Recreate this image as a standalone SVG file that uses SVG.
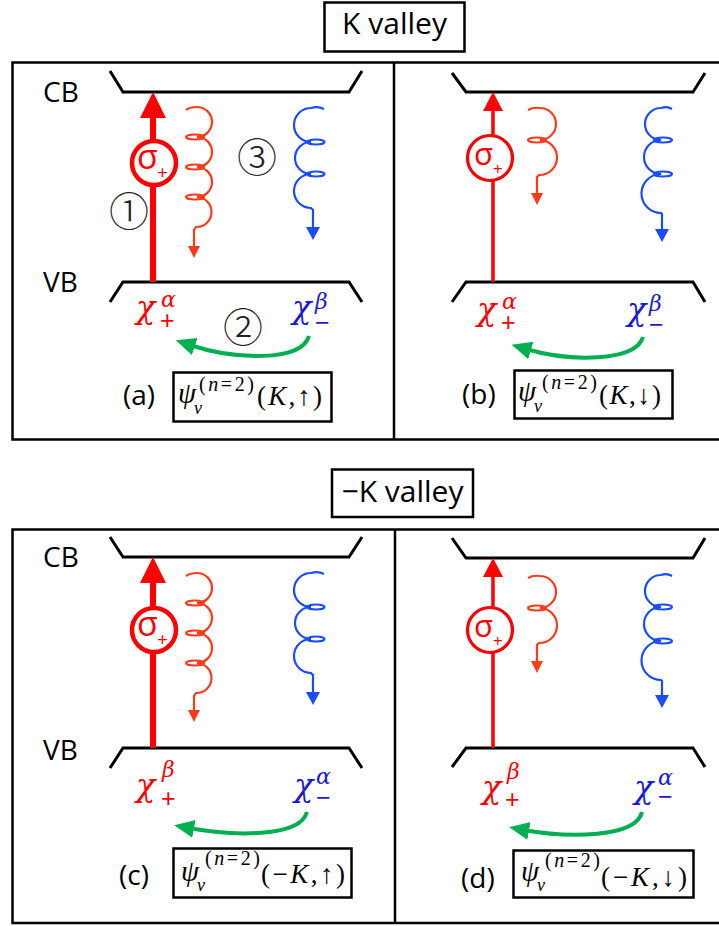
<svg xmlns="http://www.w3.org/2000/svg" width="719" height="926" viewBox="0 0 719 926">
<defs>
<style>
.frame{fill:none;stroke:#000;stroke-width:2.5}
.band{fill:none;stroke:#000;stroke-width:3}
.box{fill:#fff;stroke:#000;stroke-width:2.5}
.lbl{font-family:"Open Sans","Liberation Sans",sans-serif;fill:#000}
.m{font-family:"Liberation Serif",serif;fill:#000}
.g{font-family:"DejaVu Serif","Liberation Serif",serif;font-style:italic}
.it{font-style:italic}
.pm{font-family:"Liberation Sans",sans-serif;font-size:25px}
.num{font-family:"Noto Sans CJK JP","DejaVu Sans",sans-serif;font-size:40px;font-weight:200;fill:#222;text-anchor:middle}
.red{fill:#ff0000}
.blu{fill:#1a1ad6}
.sr{fill:none;stroke:#ff3a1a;stroke-width:2.2}
.sb{fill:none;stroke:#1a4cff;stroke-width:2.2}
.hr{fill:#ff3a1a}
.hb{fill:#1a4cff}
.grn{fill:none;stroke:#00b050;stroke-width:4;marker-end:url(#gh)}
.sig{fill:#fff;stroke:#ff0000}
</style>
<marker id="gh" markerUnits="userSpaceOnUse" markerWidth="22" markerHeight="20" viewBox="0 0 22 20" refX="5" refY="9" orient="auto">
<path d="M0,0 L20,9 L0,18 z" fill="#00b050"/>
</marker>
</defs>
<rect width="719" height="926" fill="#fff"/>

<g id="title-k">
<rect class="box" x="324.5" y="2.5" width="140" height="49"/>
<text class="lbl" x="394.5" y="34" font-size="30" text-anchor="middle">K valley</text>
</g>
<g id="title-mk">
<rect class="box" x="332" y="469.5" width="141" height="47.5"/>
<text class="lbl" x="402.5" y="502" font-size="30" text-anchor="middle">−K valley</text>
</g>

<g id="frames">
<rect class="frame" x="12.5" y="62.5" width="712" height="377"/>
<line class="frame" x1="394" y1="62.5" x2="394" y2="439.5"/>
<rect class="frame" x="12.5" y="529.5" width="712" height="393.5"/>
<line class="frame" x1="395" y1="529.5" x2="395" y2="923"/>
</g>

<g id="panel-a">
<text class="lbl" x="43" y="102" font-size="28">CB</text>
<text class="lbl" x="43" y="292" font-size="28">VB</text>
<path class="band" d="M110,71 L123,92 L349,92 L362,71"/>
<path class="band" d="M110,302 L123,282 L349,282 L362,302"/>
<text class="g red" x="136" y="318" font-size="32">χ</text>
<text class="g red" x="161" y="307" font-size="22">α</text>
<text class="pm red" x="160" y="329">+</text>
<text class="g blu" x="292" y="318" font-size="32">χ</text>
<text class="g blu" x="315" y="309" font-size="22">β</text>
<text class="pm blu" x="315" y="331">−</text>
<text class="num" x="129" y="226">①</text>
<text class="num" x="257" y="172">③</text>
<text class="num" x="243" y="342">②</text>
<text class="lbl" x="123" y="405" font-size="28">(a)</text>
<rect class="box" x="173.5" y="372.5" width="158" height="49"/>
<text class="m it" x="178" y="403" font-size="29">ψ</text>
<text class="m it" x="194" y="414" font-size="18">v</text>
<text class="m" x="199" y="391" font-size="20" textLength="55" lengthAdjust="spacing">(<tspan class="it">n</tspan>=2)</text>
<text class="m" x="257" y="405" font-size="27" textLength="65" lengthAdjust="spacing">(<tspan class="it">K</tspan>,↑)</text>
</g>

<g id="panel-b">
<path class="band" d="M452,73 L466,92 L693,92 L705,73"/>
<path class="band" d="M452,302 L466,282 L693,282 L705,302"/>
<text class="g red" x="477" y="320" font-size="32">χ</text>
<text class="g red" x="502" y="309" font-size="22">α</text>
<text class="pm red" x="501" y="331">+</text>
<text class="g blu" x="627" y="320" font-size="32">χ</text>
<text class="g blu" x="649" y="311" font-size="22">β</text>
<text class="pm blu" x="649" y="333">−</text>
<text class="lbl" x="462" y="404" font-size="28">(b)</text>
<rect class="box" x="514.5" y="370.5" width="158" height="48"/>
<text class="m it" x="518" y="401" font-size="29">ψ</text>
<text class="m it" x="534" y="412" font-size="18">v</text>
<text class="m" x="542" y="389" font-size="20" textLength="55" lengthAdjust="spacing">(<tspan class="it">n</tspan>=2)</text>
<text class="m" x="599" y="404" font-size="27" textLength="62" lengthAdjust="spacing">(<tspan class="it">K</tspan>,↓)</text>
</g>

<g id="panel-c">
<text class="lbl" x="43" y="567" font-size="28">CB</text>
<text class="lbl" x="43" y="760" font-size="28">VB</text>
<path class="band" d="M110,537 L123,557 L349,557 L362,537"/>
<path class="band" d="M110,768 L123,748 L349,748 L362,768"/>
<text class="g red" x="136" y="796" font-size="32">χ</text>
<text class="g red" x="162" y="777" font-size="22">β</text>
<text class="pm red" x="161" y="807">+</text>
<text class="g blu" x="294" y="796" font-size="32">χ</text>
<text class="g blu" x="316" y="784" font-size="22">α</text>
<text class="pm blu" x="316" y="806">−</text>
<text class="lbl" x="119" y="885" font-size="28">(c)</text>
<rect class="box" x="173.5" y="848.5" width="178" height="49"/>
<text class="m it" x="181" y="881" font-size="29">ψ</text>
<text class="m it" x="197" y="891" font-size="18">v</text>
<text class="m" x="205" y="865" font-size="20" textLength="55" lengthAdjust="spacing">(<tspan class="it">n</tspan>=2)</text>
<text class="m" x="261" y="883" font-size="27" textLength="84" lengthAdjust="spacing">(−<tspan class="it">K</tspan>,↑)</text>
</g>

<g id="panel-d">
<path class="band" d="M452,538 L466,558 L693,558 L705,538"/>
<path class="band" d="M452,767 L466,748 L693,748 L705,767"/>
<text class="g red" x="482" y="798" font-size="32">χ</text>
<text class="g red" x="507" y="779" font-size="22">β</text>
<text class="pm red" x="505" y="808">+</text>
<text class="g blu" x="634" y="798" font-size="32">χ</text>
<text class="g blu" x="658" y="785" font-size="22">α</text>
<text class="pm blu" x="658" y="805">−</text>
<text class="lbl" x="461" y="888" font-size="28">(d)</text>
<rect class="box" x="513.5" y="850.5" width="180" height="47"/>
<text class="m it" x="521" y="881" font-size="29">ψ</text>
<text class="m it" x="537" y="891" font-size="18">v</text>
<text class="m" x="545" y="867" font-size="20" textLength="55" lengthAdjust="spacing">(<tspan class="it">n</tspan>=2)</text>
<text class="m" x="601" y="886" font-size="27" textLength="86" lengthAdjust="spacing">(−<tspan class="it">K</tspan>,↓)</text>
</g>

<g id="connectors">
<line x1="153" y1="282" x2="153" y2="112" stroke="#ff0000" stroke-width="6"/>
<polygon points="153,92 140,118 166,118" fill="#ff0000"/>
<circle class="sig" cx="154" cy="163" r="22" stroke-width="4.5"/>
<text class="lbl red" x="137" y="169" font-size="34">σ</text>
<text class="lbl red" x="157" y="179" font-size="19">+</text>

<line x1="493" y1="282" x2="493" y2="106" stroke="#ff0000" stroke-width="3.5"/>
<polygon points="493,92 483,111 503,111" fill="#ff0000"/>
<circle class="sig" cx="490" cy="158" r="22.5" stroke-width="3.2"/>
<text class="lbl red" x="474" y="165" font-size="31">σ</text>
<text class="lbl red" x="493" y="175" font-size="17">+</text>

<line x1="153" y1="748" x2="153" y2="577" stroke="#ff0000" stroke-width="6"/>
<polygon points="153,557 140,583 166,583" fill="#ff0000"/>
<circle class="sig" cx="154" cy="630" r="22" stroke-width="4.5"/>
<text class="lbl red" x="137" y="636" font-size="34">σ</text>
<text class="lbl red" x="157" y="646" font-size="19">+</text>

<line x1="493" y1="748" x2="493" y2="572" stroke="#ff0000" stroke-width="3.5"/>
<polygon points="493,558 483,577 503,577" fill="#ff0000"/>
<circle class="sig" cx="490" cy="630" r="22.5" stroke-width="3.2"/>
<text class="lbl red" x="474" y="637" font-size="31">σ</text>
<text class="lbl red" x="493" y="647" font-size="17">+</text>

<path class="sr" d="M186,110 Q190,107 197,107 A15 15 0 0 1 197,137 A15 15 0 0 1 197,167 A15 15 0 0 1 197,197 A15 15 0 0 1 196,227 L194,230 L194,248"/>
<ellipse class="sr" cx="195" cy="137" rx="9" ry="2.5"/>
<ellipse class="sr" cx="195" cy="167" rx="9" ry="2.5"/>
<ellipse class="sr" cx="195" cy="197" rx="9" ry="2.5"/>
<polygon class="hr" points="194,258 188,246 200,246"/>

<path class="sb" d="M324,109 Q318,106 311,108 A17 17 0 0 0 311,142 A16 16 0 0 0 311,174 A17 17 0 0 0 311,208 L313,210 L313,229"/>
<ellipse class="sb" cx="316" cy="142" rx="8.5" ry="2.5"/>
<ellipse class="sb" cx="316" cy="174" rx="8.5" ry="2.5"/>
<polygon class="hb" points="313,240 306,227 320,227"/>

<path class="sr" d="M528,110 Q533,107 540,108 A16 16 0 0 1 540,140 A17.5 17.5 0 0 1 539,175 L537,177 L537,195"/>
<ellipse class="sr" cx="537" cy="140" rx="9" ry="2.5"/>
<polygon class="hr" points="537,205 531,193 543,193"/>

<path class="sb" d="M672,109 Q667,106 661,108 A16 16 0 0 0 661,140 A17 17 0 0 0 661,174 A19.5 19.5 0 0 0 661,213 L662,214 L662,231"/>
<ellipse class="sb" cx="663" cy="140" rx="9" ry="2.5"/>
<ellipse class="sb" cx="663" cy="174" rx="9" ry="2.5"/>
<polygon class="hb" points="662,242 655,229 669,229"/>

<path class="sr" d="M186,576 Q190,573 197,573 A15 15 0 0 1 197,603 A15 15 0 0 1 197,633 A15 15 0 0 1 197,663 A15 15 0 0 1 196,693 L194,696 L194,712"/>
<ellipse class="sr" cx="195" cy="603" rx="9" ry="2.5"/>
<ellipse class="sr" cx="195" cy="633" rx="9" ry="2.5"/>
<ellipse class="sr" cx="195" cy="663" rx="9" ry="2.5"/>
<polygon class="hr" points="194,722 188,710 200,710"/>

<path class="sb" d="M324,574 Q318,571 311,573 A17 17 0 0 0 311,607 A16 16 0 0 0 311,639 A17 17 0 0 0 311,673 L313,675 L313,694"/>
<ellipse class="sb" cx="316" cy="607" rx="8.5" ry="2.5"/>
<ellipse class="sb" cx="316" cy="639" rx="8.5" ry="2.5"/>
<polygon class="hb" points="313,705 306,692 320,692"/>

<path class="sr" d="M528,578 Q533,575 540,576 A16 16 0 0 1 540,608 A17.5 17.5 0 0 1 539,643 L537,645 L537,663"/>
<ellipse class="sr" cx="537" cy="608" rx="9" ry="2.5"/>
<polygon class="hr" points="537,673 531,661 543,661"/>

<path class="sb" d="M672,576 Q667,573 661,575 A16 16 0 0 0 661,607 A17 17 0 0 0 661,641 A19.5 19.5 0 0 0 661,680 L662,681 L662,697"/>
<ellipse class="sb" cx="663" cy="607" rx="9" ry="2.5"/>
<ellipse class="sb" cx="663" cy="641" rx="9" ry="2.5"/>
<polygon class="hb" points="662,708 655,695 669,695"/>

<path class="grn" d="M309,336 C302,362 235,360 190,345"/>
<path class="grn" d="M643,337 C636,362 570,362 526,349"/>
<path class="grn" d="M307,812 C300,838 232,836 189,828"/>
<path class="grn" d="M642,812 C636,838 568,838 524,830"/>
</g>
</svg>
